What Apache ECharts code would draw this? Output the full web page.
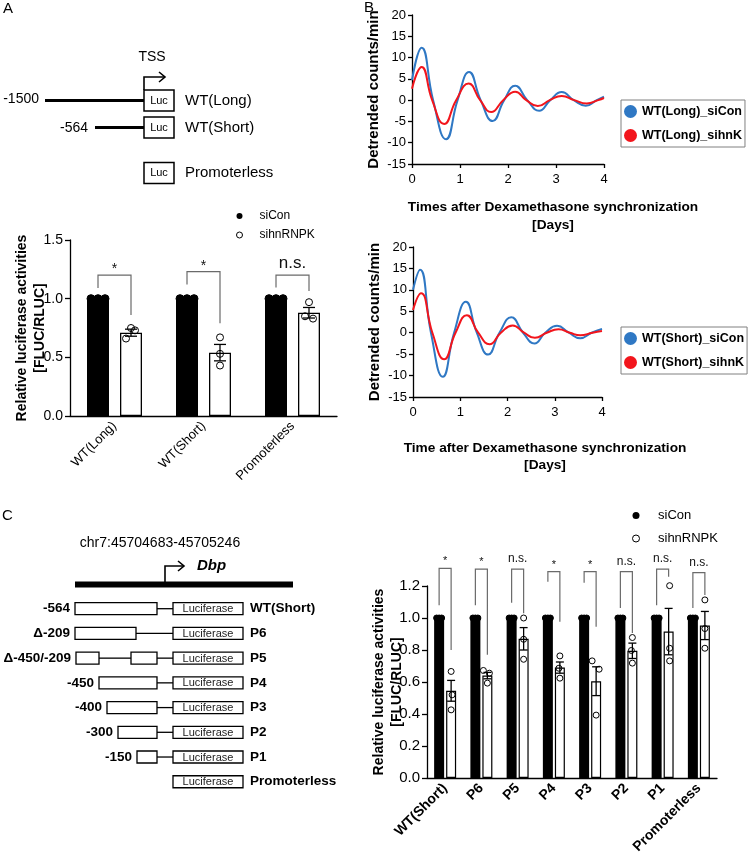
<!DOCTYPE html>
<html>
<head>
<meta charset="utf-8">
<script src="https://cdn.jsdelivr.net/npm/echarts@6/dist/echarts.min.js"></script>
<style>
html, body { margin: 0; padding: 0; background: #fff; }
#main { width: 750px; height: 862px; }
</style>
</head>
<body>
<div id="main"></div>
<script>
// ---------- panel A : luciferase bars ----------
const aCategories = ['WT(Long)', 'WT(Short)', 'Promoterless'];
const aSiConMean = [1, 1, 1];
const aSiConPoints = [[1, 1, 1], [1, 1, 1], [1, 1, 1]];
const aSihnMean = [0.71, 0.54, 0.88];
const aSihnSem = [0.03, 0.07, 0.045];
const aSihnPoints = [[0.66, 0.75, 0.73], [0.67, 0.53, 0.43], [0.85, 0.97, 0.83]];
const aSigLabels = ['*', '*', 'n.s.'];
const aSigTop = [1.2, 1.23, 1.2];
const aSigLeft = [1.09, 1.12, 1.095];
const aSigRight = [0.86, 0.79, 1.065];

// ---------- panel B : detrended bioluminescence [day, counts/min] ----------
const longSiCon = [[0, 4.7], [0.2, 12.3], [0.44, 0], [0.71, -9.2], [0.95, 0], [1.19, 6.6], [1.43, 0], [1.68, -4.9],
  [1.92, 0], [2.15, 3.4], [2.4, 0], [2.65, -2.5], [2.88, 0], [3.12, 1.9], [3.37, 0], [3.62, -1.3], [3.85, 0], [4, 0.8]];
const longSihnK = [[0, 2.7], [0.2, 7.8], [0.42, 0], [0.67, -5.6], [0.92, 0], [1.18, 3.9], [1.42, 0], [1.65, -2.8],
  [1.9, 0], [2.15, 2.0], [2.38, 0], [2.62, -1.4], [2.87, 0], [3.12, 1.0], [3.38, 0], [3.64, -0.8], [3.88, 0], [4, 0.5]];
const shortSiCon = [[0, 10], [0.15, 14.7], [0.38, 0], [0.63, -10.3], [0.87, 0], [1.12, 7.2], [1.35, 0], [1.59, -5.1],
  [1.83, 0], [2.08, 3.6], [2.33, 0], [2.57, -2.5], [2.8, 0], [3.05, 1.6], [3.3, 0], [3.54, -1.3], [3.78, 0], [4, 0.9]];
const shortSihnK = [[0, 5.3], [0.17, 9.2], [0.41, 0], [0.66, -6.2], [0.9, 0], [1.14, 4.1], [1.38, 0], [1.62, -2.7],
  [1.86, 0], [2.11, 1.7], [2.35, 0], [2.58, -1.2], [2.83, 0], [3.08, 0.8], [3.32, 0], [3.54, -0.6], [3.8, 0], [4, 0.4]];

// ---------- panel C : deletion constructs ----------
const cCategories = ['WT(Short)', 'P6', 'P5', 'P4', 'P3', 'P2', 'P1', 'Promoterless'];
const cSiConMean = [1, 1, 1, 1, 1, 1, 1, 1];
const cSiConPoints = [[1, 1, 1], [1, 1, 1], [1, 1, 1], [1, 1, 1], [1, 1, 1], [1, 1, 1], [1, 1, 1], [1, 1, 1]];
const cSihnMean = [0.545, 0.64, 0.87, 0.69, 0.605, 0.795, 0.915, 0.953];
const cSihnSem = [0.065, 0.02, 0.07, 0.035, 0.09, 0.048, 0.145, 0.088];
const cSihnPoints = [[0.666, 0.52, 0.426], [0.672, 0.655, 0.593], [1.0, 0.867, 0.742], [0.763, 0.686, 0.624],
  [0.732, 0.68, 0.393], [0.878, 0.797, 0.718], [1.202, 0.811, 0.732], [1.113, 0.934, 0.811]];
const cSigLabels = ['*', '*', 'n.s.', '*', '*', 'n.s.', 'n.s.', 'n.s.'];
const cSigTop = [1.31, 1.306, 1.306, 1.29, 1.29, 1.29, 1.306, 1.283];
const cSigLeft = [1.08, 1.08, 1.096, 1.227, 1.22, 1.063, 1.08, 1.063];
const cSigRight = [0.80, 0.77, 1.03, 0.977, 0.946, 0.907, 1.258, 1.144];

const FONT = '"Liberation Sans", Arial, Helvetica, sans-serif';

// pixel jitter of the open circles (style only)
const aJitter = [[-5, 0, 4], [0, 0, 0], [-4, 0, 4]];
const cJitter = [[0, 1, 0], [-4, 2, 0], [0, 0, 0], [0, -1, 0], [-4, 3, 0], [0, -1, 0], [1, 1, 1], [0, 0, 0]];
const blackJitterA = [[-7, 0, 7], [-7, 0, 7], [-7, 0, 7]];
const blackJitterC = cCategories.map(() => [-2.5, 0, 2.5]);

let chart = echarts.init(document.getElementById('main'));

function barX(gi, cats, size, bold) {
  return {
    type: 'category', gridIndex: gi, data: cats,
    axisLine: { lineStyle: { color: '#000', width: 1.3 } },
    axisTick: { alignWithLabel: true, length: 5, lineStyle: { color: '#000', width: 1.3 } },
    axisLabel: { rotate: 45, color: '#000', fontSize: size, fontWeight: bold ? 'bold' : 'normal', margin: 8, interval: 0 }
  };
}
function barY(gi, max, step, size, gap) {
  return {
    type: 'value', gridIndex: gi, min: 0, max: max, interval: step,
    axisLine: { show: true, lineStyle: { color: '#000', width: 1.3 } },
    axisTick: { show: true, length: 5, lineStyle: { color: '#000', width: 1.3 } },
    splitLine: { show: false },
    axisLabel: { color: '#000', fontSize: size, margin: 7, formatter: v => v.toFixed(1) },
    name: 'Relative luciferase activities\n[FLUC/RLUC]', nameLocation: 'middle', nameGap: gap,
    nameMoveOverlap: false,
    nameTextStyle: { fontSize: 14, fontWeight: 'bold', lineHeight: 18, color: '#000' }
  };
}
function lineX(gi) {
  return {
    type: 'value', gridIndex: gi, min: 0, max: 4, interval: 1,
    axisLine: { onZero: false, lineStyle: { color: '#000', width: 1.3 } },
    axisTick: { show: true, length: 4, lineStyle: { color: '#000', width: 1.3 } },
    splitLine: { show: false },
    axisLabel: { color: '#000', fontSize: 13, margin: 9 }
  };
}
function lineY(gi) {
  return {
    type: 'value', gridIndex: gi, min: -15, max: 20, interval: 5,
    axisLine: { show: true, onZero: false, lineStyle: { color: '#000', width: 1.3 } },
    axisTick: { show: true, length: 4, lineStyle: { color: '#000', width: 1.3 } },
    splitLine: { show: false },
    axisLabel: { color: '#000', fontSize: 13, margin: 6 },
    name: 'Detrended counts/min', nameLocation: 'middle', nameGap: 31, nameMoveOverlap: false,
    nameTextStyle: { fontSize: 15, fontWeight: 'bold', color: '#000' }
  };
}

function dots(xi, reps, jitter, off, filled, r) {
  let data = [];
  reps.forEach((arr, i) => arr.forEach((v, j) => data.push([i, v, jitter[i][j]])));
  return {
    type: 'custom', xAxisIndex: xi, yAxisIndex: xi, silent: true, z: 4, data: data,
    renderItem: function (params, api) {
      let p = api.coord([api.value(0), api.value(1)]);
      return {
        type: 'circle', shape: { cx: p[0] + off + api.value(2), cy: p[1], r: r },
        style: { fill: filled ? '#000' : 'none', stroke: '#000', lineWidth: 1 }
      };
    }
  };
}
function errBars(xi, means, sems, off, cap) {
  return {
    type: 'custom', xAxisIndex: xi, yAxisIndex: xi, silent: true, z: 5,
    data: means.map((m, i) => [i, m, sems[i]]),
    renderItem: function (params, api) {
      let i = api.value(0), m = api.value(1), s = api.value(2);
      let x = api.coord([i, m])[0] + off;
      let y1 = api.coord([i, m + s])[1], y2 = api.coord([i, m - s])[1];
      let st = { stroke: '#000', lineWidth: 1.3 };
      return {
        type: 'group', children: [
          { type: 'line', shape: { x1: x, y1: y1, x2: x, y2: y2 }, style: st },
          { type: 'line', shape: { x1: x - cap / 2, y1: y1, x2: x + cap / 2, y2: y1 }, style: st },
          { type: 'line', shape: { x1: x - cap / 2, y1: y2, x2: x + cap / 2, y2: y2 }, style: st }
        ]
      };
    }
  };
}
function brackets(xi, labels, tops, lefts, rights, lOff, rOff, starSize, nsSize, starDy, nsDy) {
  return {
    type: 'custom', xAxisIndex: xi, yAxisIndex: xi, silent: true, z: 5,
    data: labels.map((l, i) => [i, tops[i], lefts[i], rights[i]]),
    renderItem: function (params, api) {
      let i = api.value(0);
      let cx = api.coord([i, 0])[0];
      let yT = api.coord([i, api.value(1)])[1];
      let yL = api.coord([i, api.value(2)])[1];
      let yR = api.coord([i, api.value(3)])[1];
      let xL = cx + lOff, xR = cx + rOff;
      let star = labels[i] === '*';
      return {
        type: 'group', children: [
          { type: 'polyline', shape: { points: [[xL, yL], [xL, yT], [xR, yT], [xR, yR]] },
            style: { fill: null, stroke: '#6a6a6a', lineWidth: 1.2 } },
          { type: 'text', x: (xL + xR) / 2, y: yT - (star ? starDy : nsDy),
            style: { text: labels[i], align: 'center', verticalAlign: 'middle', fontSize: star ? starSize : nsSize,
              fontFamily: FONT, fill: '#111' } }
        ]
      };
    }
  };
}

// ---------- construct diagrams (layout graphics) ----------
let g = [];
function txt(x, y, s, o) {
  g.push({ type: 'text', x: x, y: y, style: Object.assign({ text: s, fill: '#000', fontSize: 14, fontFamily: FONT,
    align: 'left', verticalAlign: 'middle' }, o || {}) });
}
function rect(x, y, w, h, lw) {
  g.push({ type: 'rect', shape: { x: x, y: y, width: w, height: h }, style: { fill: '#fff', stroke: '#000', lineWidth: lw || 1.3 } });
}
function ln(x1, y1, x2, y2, lw) {
  g.push({ type: 'line', shape: { x1: x1, y1: y1, x2: x2, y2: y2 }, style: { stroke: '#000', lineWidth: lw || 1.3 } });
}
function arrow(x0, yBottom, yTop, x1) {
  g.push({ type: 'polyline', shape: { points: [[x0, yBottom], [x0, yTop], [x1, yTop]] }, style: { fill: null, stroke: '#000', lineWidth: 1.6 } });
  g.push({ type: 'polyline', shape: { points: [[x1 - 6, yTop - 5], [x1, yTop], [x1 - 6, yTop + 5]] }, style: { fill: null, stroke: '#000', lineWidth: 1.6 } });
}

// panel letters
txt(3, 9, 'A', { fontSize: 15 });
txt(364, 8, 'B', { fontSize: 15 });
txt(2, 516, 'C', { fontSize: 15 });

// A diagram
txt(152, 57, 'TSS', { align: 'center' });
arrow(144, 90, 77, 165);
const aRowsY = [100.5, 127.5, 173];
ln(45, aRowsY[0], 144, aRowsY[0], 3);
txt(39, aRowsY[0] - 1, '-1500', { align: 'right' });
ln(95, aRowsY[1], 144, aRowsY[1], 3);
txt(88, aRowsY[1] + 1, '-564', { align: 'right' });
['WT(Long)', 'WT(Short)', 'Promoterless'].forEach((n, i) => {
  rect(144, aRowsY[i] - 10.5, 30, 21, 1.5);
  txt(159, aRowsY[i], 'Luc', { align: 'center', fontSize: 11 });
  txt(185, aRowsY[i], n, { fontSize: 15 });
});

// C diagram
txt(160, 543, 'chr7:45704683-45705246', { align: 'center', fontSize: 14 });
arrow(165, 583, 566, 184);
txt(197, 566, 'Dbp', { fontSize: 15, fontWeight: 'bold', fontStyle: 'italic' });
g.push({ type: 'rect', shape: { x: 75, y: 581.5, width: 218, height: 6 }, style: { fill: '#000' } });
const cRows = [
  { lab: '-564', boxes: [[75, 157]], name: 'WT(Short)' },
  { lab: 'Δ-209', boxes: [[75, 136]], name: 'P6' },
  { lab: 'Δ-450/-209', boxes: [[76, 99], [131, 157]], name: 'P5' },
  { lab: '-450', boxes: [[99, 157]], name: 'P4' },
  { lab: '-400', boxes: [[107, 157]], name: 'P3' },
  { lab: '-300', boxes: [[118, 157]], name: 'P2' },
  { lab: '-150', boxes: [[137, 157]], name: 'P1' },
  { lab: '', boxes: [], name: 'Promoterless' }
];
cRows.forEach((r, i) => {
  let y = 608.7 + i * 24.72;
  let prev = null;
  r.boxes.forEach(b => {
    if (prev !== null) ln(prev, y, b[0], y);
    rect(b[0], y - 6, b[1] - b[0], 12);
    prev = b[1];
  });
  if (prev !== null) ln(prev, y, 173, y);
  if (r.lab) txt(r.boxes[0][0] - 5, y, r.lab, { align: 'right', fontWeight: 'bold', fontSize: 13.5 });
  rect(173, y - 6, 70, 12);
  txt(208, y + 0.5, 'Luciferase', { align: 'center', fontSize: 11, fill: '#222' });
  txt(250, y, r.name, { fontWeight: 'bold', fontSize: 13.5 });
});

// B x-axis titles
txt(553, 207, 'Times after Dexamethasone synchronization', { align: 'center', fontWeight: 'bold', fontSize: 13.7 });
txt(553, 225, '[Days]', { align: 'center', fontWeight: 'bold', fontSize: 13.7 });
txt(545, 448, 'Time after Dexamethasone synchronization', { align: 'center', fontWeight: 'bold', fontSize: 13.7 });
txt(545, 465, '[Days]', { align: 'center', fontWeight: 'bold', fontSize: 13.7 });

const BLUE = '#2f78c4';
const RED = '#f2151c';

let option = {
  animation: false,
  textStyle: { fontFamily: FONT, color: '#000' },
  grid: [
    { left: 70, top: 240, width: 267, height: 176 },
    { left: 412, top: 15, width: 192, height: 149 },
    { left: 413, top: 247, width: 189, height: 150 },
    { left: 427, top: 586, width: 290, height: 192 }
  ],
  xAxis: [barX(0, aCategories, 13, false), lineX(1), lineX(2), barX(3, cCategories, 14, true)],
  yAxis: [barY(0, 1.5, 0.5, 14, 21), lineY(1), lineY(2), barY(3, 1.2, 0.2, 15, 21)],
  legend: [
    { left: 231, top: 205, orient: 'vertical', itemWidth: 30, itemHeight: 6, itemGap: 7, selectedMode: false,
      textStyle: { fontSize: 12, color: '#000', fontFamily: FONT },
      data: [{ name: 'siCon', icon: 'circle', itemStyle: { color: '#000', borderWidth: 0 } },
             { name: 'sihnRNPK', icon: 'circle', itemStyle: { color: '#fff', borderColor: '#000', borderWidth: 1 } }] },
    { left: 621, top: 100, orient: 'vertical', itemWidth: 13, itemHeight: 13, itemGap: 11, selectedMode: false,
      padding: [5, 3, 5, 3], borderColor: '#808080', borderWidth: 1,
      textStyle: { fontSize: 12.5, fontWeight: 'bold', color: '#000', fontFamily: FONT },
      data: [{ name: 'WT(Long)_siCon', icon: 'circle' }, { name: 'WT(Long)_sihnK', icon: 'circle' }] },
    { left: 621, top: 327, orient: 'vertical', itemWidth: 13, itemHeight: 13, itemGap: 11, selectedMode: false,
      padding: [5, 3, 5, 3], borderColor: '#808080', borderWidth: 1,
      textStyle: { fontSize: 12.5, fontWeight: 'bold', color: '#000', fontFamily: FONT },
      data: [{ name: 'WT(Short)_siCon', icon: 'circle' }, { name: 'WT(Short)_sihnK', icon: 'circle' }] },
    { left: 627, top: 504, orient: 'vertical', itemWidth: 34, itemHeight: 7, itemGap: 10, selectedMode: false,
      textStyle: { fontSize: 13, color: '#000', fontFamily: FONT },
      data: [{ name: 'siCon', icon: 'circle', itemStyle: { color: '#000', borderWidth: 0 } },
             { name: 'sihnRNPK', icon: 'circle', itemStyle: { color: '#fff', borderColor: '#000', borderWidth: 1 } }] }
  ],
  graphic: { elements: g },
  series: [
    // A
    { name: 'siCon', type: 'bar', xAxisIndex: 0, yAxisIndex: 0, data: aSiConMean, barWidth: 22, barGap: '50%',
      itemStyle: { color: '#000' } },
    { name: 'sihnRNPK', type: 'bar', xAxisIndex: 0, yAxisIndex: 0, data: aSihnMean, barWidth: 22,
      itemStyle: { color: '#fff', borderColor: '#000', borderWidth: 1.3 } },
    dots(0, aSiConPoints, blackJitterA, -16.5, true, 4),
    dots(0, aSihnPoints, aJitter, 16.5, false, 3.5),
    errBars(0, aSihnMean, aSihnSem, 16.5, 12),
    brackets(0, aSigLabels, aSigTop, aSigLeft, aSigRight, -16.5, 16.5, 14, 17, 6, 12),
    // B
    { name: 'WT(Long)_siCon', type: 'line', xAxisIndex: 1, yAxisIndex: 1, data: longSiCon, smooth: 0.5,
      showSymbol: false, color: BLUE, lineStyle: { width: 2 } },
    { name: 'WT(Long)_sihnK', type: 'line', xAxisIndex: 1, yAxisIndex: 1, data: longSihnK, smooth: 0.5,
      showSymbol: false, color: RED, lineStyle: { width: 2 } },
    { name: 'WT(Short)_siCon', type: 'line', xAxisIndex: 2, yAxisIndex: 2, data: shortSiCon, smooth: 0.5,
      showSymbol: false, color: BLUE, lineStyle: { width: 2 } },
    { name: 'WT(Short)_sihnK', type: 'line', xAxisIndex: 2, yAxisIndex: 2, data: shortSihnK, smooth: 0.5,
      showSymbol: false, color: RED, lineStyle: { width: 2 } },
    // C
    { name: 'siCon', type: 'bar', xAxisIndex: 3, yAxisIndex: 3, data: cSiConMean, barWidth: 10, barGap: '20%',
      itemStyle: { color: '#000' } },
    { name: 'sihnRNPK', type: 'bar', xAxisIndex: 3, yAxisIndex: 3, data: cSihnMean, barWidth: 10,
      itemStyle: { color: '#fff', borderColor: '#000', borderWidth: 1.2 } },
    dots(3, cSiConPoints, blackJitterC, -6, true, 3),
    dots(3, cSihnPoints, cJitter, 6, false, 3),
    errBars(3, cSihnMean, cSihnSem, 6, 8),
    brackets(3, cSigLabels, cSigTop, cSigLeft, cSigRight, -6, 6, 11, 12, 7, 10)
  ]
};
chart.setOption(option);

window.addEventListener('resize', function () {
  chart.resize();
});
</script>
</body>
</html>
